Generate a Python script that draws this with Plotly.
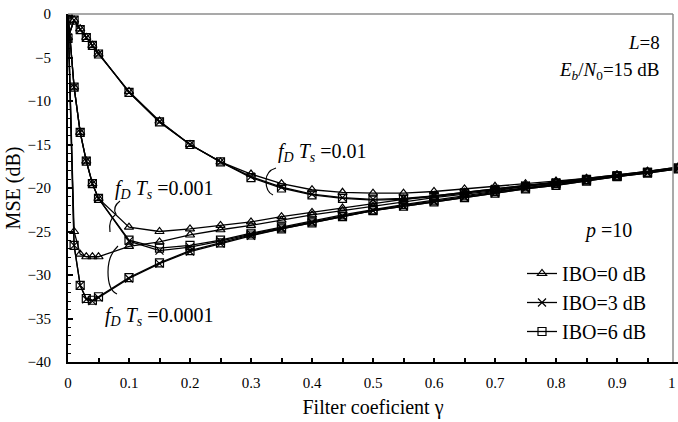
import plotly.graph_objects as go

gamma = [0, 0.01, 0.02, 0.03, 0.04, 0.05, 0.1, 0.15, 0.2, 0.25, 0.3, 0.35, 0.4, 0.45,
         0.5, 0.55, 0.6, 0.65, 0.7, 0.75, 0.8, 0.85, 0.9, 0.95, 1.0]

# fD*Ts = 0.01
g1_ibo0 = [-2.7, -0.7, -1.7, -2.7, -3.6, -4.6, -8.9, -12.3, -15.0, -17.0, -18.4, -19.5, -20.2,
           -20.5, -20.6, -20.6, -20.4, -20.1, -19.8, -19.5, -19.2, -18.9, -18.5, -18.1, -17.6]
g1_ibo3 = [-2.7, -0.7, -1.8, -2.7, -3.6, -4.6, -9.0, -12.4, -15.0, -17.0, -18.7, -19.9, -20.7,
           -21.1, -21.3, -21.2, -20.9, -20.5, -20.1, -19.7, -19.4, -19.0, -18.6, -18.2, -17.7]
g1_ibo6 = [-2.8, -0.7, -1.8, -2.7, -3.6, -4.6, -9.0, -12.4, -15.0, -17.0, -18.8, -20.0, -20.8,
           -21.2, -21.4, -21.3, -21.0, -20.6, -20.2, -19.8, -19.4, -19.0, -18.6, -18.2, -17.7]
# fD*Ts = 0.001
g2_ibo0 = [0.0, -8.4, -13.6, -16.9, -19.5, -21.2, -24.5, -25.0, -24.7, -24.3, -23.9, -23.3, -22.8,
           -22.3, -21.8, -21.3, -20.9, -20.5, -20.1, -19.7, -19.3, -18.9, -18.5, -18.1, -17.6]
g2_ibo3 = [0.0, -8.4, -13.6, -16.9, -19.5, -21.2, -26.1, -27.2, -26.8, -26.1, -25.3, -24.6, -23.9,
           -23.2, -22.6, -22.0, -21.5, -21.0, -20.5, -20.0, -19.6, -19.1, -18.7, -18.2, -17.8]
g2_ibo6 = [0.0, -8.4, -13.6, -16.9, -19.5, -21.2, -26.0, -26.9, -26.6, -26.0, -25.2, -24.5, -23.8,
           -23.1, -22.5, -21.9, -21.4, -20.9, -20.4, -20.0, -19.5, -19.1, -18.6, -18.2, -17.7]
# fD*Ts = 0.0001
g3_ibo0 = [0.0, -25.0, -27.6, -27.9, -27.9, -27.9, -26.7, -26.2, -25.4, -24.8, -24.3, -23.7, -23.1,
           -22.6, -22.1, -21.6, -21.1, -20.7, -20.3, -19.8, -19.4, -19.0, -18.6, -18.1, -17.7]
g3_ibo3 = [0.0, -26.6, -31.2, -32.8, -33.0, -32.6, -30.4, -28.7, -27.3, -26.4, -25.5, -24.7, -24.0,
           -23.3, -22.6, -22.1, -21.6, -21.1, -20.6, -20.1, -19.7, -19.2, -18.7, -18.3, -17.8]
g3_ibo6 = [0.0, -26.6, -31.2, -32.7, -32.9, -32.5, -30.3, -28.6, -27.2, -26.3, -25.4, -24.7, -24.0,
           -23.3, -22.6, -22.1, -21.6, -21.1, -20.6, -20.1, -19.7, -19.2, -18.7, -18.3, -17.8]

x_ticks = [0, 0.1, 0.2, 0.3, 0.4, 0.5, 0.6, 0.7, 0.8, 0.9, 1]
x_tick_text = ["0", "0.1", "0.2", "0.3", "0.4", "0.5", "0.6", "0.7", "0.8", "0.9", ""]

ibo_names = ["IBO=0 dB", "IBO=3 dB", "IBO=6 dB"]
symbols = ["triangle-up-open", "x-thin-open", "square-open"]
groups = [[g1_ibo0, g1_ibo3, g1_ibo6], [g2_ibo0, g2_ibo3, g2_ibo6], [g3_ibo0, g3_ibo3, g3_ibo6]]

FONT = "Liberation Serif"

fig = go.Figure()
for gi, grp in enumerate(groups):
    for k, ys in enumerate(grp):
        fig.add_trace(go.Scatter(
            x=gamma, y=ys, mode="lines+markers", name=ibo_names[k],
            legendgroup=ibo_names[k], showlegend=(gi == 0),
            line=dict(color="black", width=1.3),
            marker=dict(symbol=symbols[k], size=8, color="black", line=dict(color="black", width=1.2)),
        ))

L, R, T, B = 68, 678, 14, 362


def px(x):
    return (x - L) / float(R - L)


def py(y):
    return (B - y) / float(B - T)


FD = "<i>f</i><sub><i>D</i></sub> <i>T</i><sub><i>s</i></sub> "
annotations = [
    dict(x=px(662), y=py(42), text="<i>L</i>=8", xanchor="right", size=19),
    dict(x=px(662), y=py(71), text="<i>E</i><sub><i>b</i></sub>/<i>N</i><sub>0</sub>=15 dB", xanchor="right", size=19),
    dict(x=px(276), y=py(152), text=FD + "=0.01", xanchor="left", size=20),
    dict(x=px(113), y=py(189), text=FD + "=0.001", xanchor="left", size=20),
    dict(x=px(103), y=py(316), text=FD + "=0.0001", xanchor="left", size=20),
    dict(x=px(582), y=py(230), text="<i>p</i> =10", xanchor="left", size=20),
    dict(x=1.0, y=py(383), text="1", xanchor="right", size=15),
]
ann_objs = []
for a in annotations:
    ann_objs.append(dict(x=a["x"], y=a["y"], xref="paper", yref="paper", text=a["text"],
                         xanchor=a["xanchor"], yanchor="middle", showarrow=False,
                         font=dict(family=FONT, size=a["size"], color="black")))


def pth(points):
    s = "M %f,%f" % (px(points[0][0]), py(points[0][1]))
    i = 1
    while i < len(points):
        (x1, y1), (x2, y2) = points[i], points[i + 1]
        s += " Q %f,%f %f,%f" % (px(x1), py(y1), px(x2), py(y2))
        i += 2
    return s


braces = [
    [(276, 168), (266, 171), (266, 181), (266, 192), (273, 195)],
    [(120, 201), (112, 207), (116, 214), (108, 220), (110, 232)],
    [(118, 246), (108, 255), (108, 272), (108, 290), (117, 294)],
]
shapes = []
for b in braces:
    shapes.append(dict(type="path", xref="paper", yref="paper", path=pth(b),
                       line=dict(color="black", width=1.2)))
# gray frame on top and right
shapes.append(dict(type="line", xref="paper", yref="paper", x0=0, x1=px(673), y0=1, y1=1,
                   line=dict(color="#8c8c8c", width=1.5)))
shapes.append(dict(type="line", xref="paper", yref="paper", x0=px(673), x1=px(673), y0=0, y1=1,
                   line=dict(color="#8c8c8c", width=1.5)))

fig.update_layout(
    width=678, height=422,
    margin=dict(l=L, r=678 - R, t=T, b=422 - B),
    plot_bgcolor="white", paper_bgcolor="white",
    font=dict(family=FONT, size=15, color="black"),
    showlegend=True,
    legend=dict(x=px(522), y=py(254), xanchor="left", yanchor="top",
                bgcolor="rgba(0,0,0,0)", font=dict(family=FONT, size=20),
                tracegroupgap=0, itemwidth=30),
    annotations=ann_objs,
    shapes=shapes,
    xaxis=dict(range=[0, 1], tickvals=x_ticks, ticktext=x_tick_text,
               showgrid=False, zeroline=False, showline=True, linecolor="black", linewidth=2,
               ticks="inside", ticklen=4, tickcolor="black", tickwidth=1.5,
               minor=dict(dtick=0.05, ticks="inside", ticklen=4, tickcolor="black", tickwidth=1.5),
               tickfont=dict(family=FONT, size=15), ticklabelstandoff=6,
               title=dict(text="Filter coeficient γ", font=dict(family=FONT, size=20), standoff=10)),
    yaxis=dict(range=[-40, 0], dtick=5, showgrid=False, zeroline=False, showline=True,
               linecolor="black", linewidth=2, ticks="inside", ticklen=5, tickcolor="black",
               tickwidth=1.5,
               minor=dict(dtick=1, ticks="inside", ticklen=3, tickcolor="black", tickwidth=1),
               tickfont=dict(family=FONT, size=15), ticklabelstandoff=12,
               title=dict(text="MSE (dB)", font=dict(family=FONT, size=20), standoff=2)),
)

fig.write_html("out.html")
